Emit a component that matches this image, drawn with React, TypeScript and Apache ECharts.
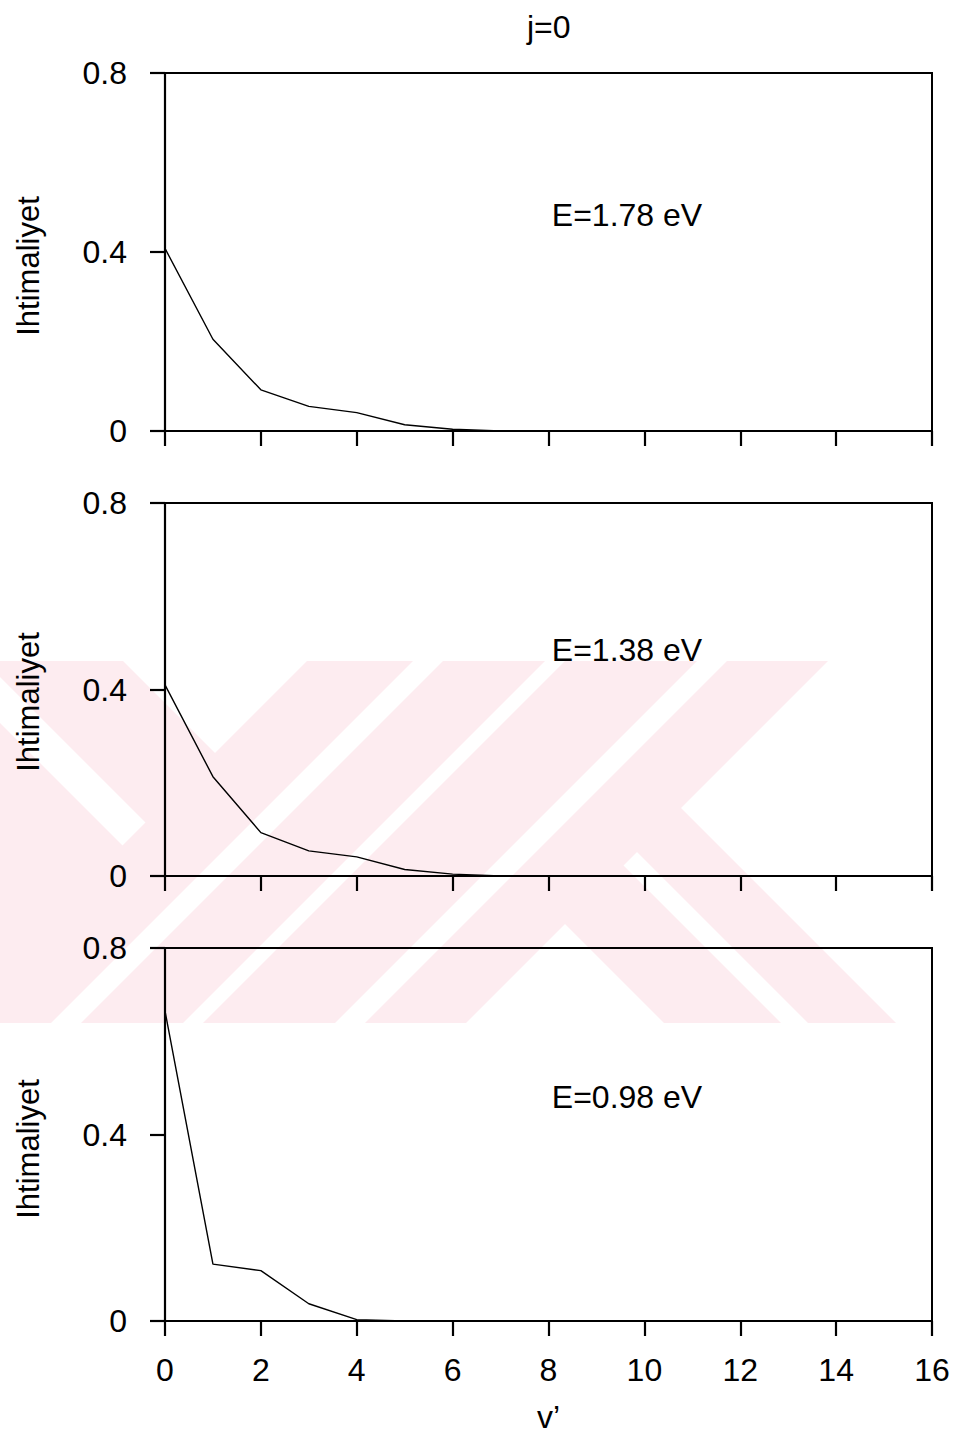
import React, { useEffect, useRef } from "react";
import * as echarts from "echarts";

// ---- data ----
const vLevels = [0, 1, 2, 3, 4, 5, 6, 7, 8, 9, 10, 11, 12, 13, 14, 15, 16];
const probE178 = [0.408, 0.205, 0.092, 0.055, 0.041, 0.014, 0.004, 0, 0, 0, 0, 0, 0, 0, 0, 0, 0];
const probE138 = [0.41, 0.213, 0.093, 0.054, 0.041, 0.014, 0.004, 0, 0, 0, 0, 0, 0, 0, 0, 0, 0];
const probE098 = [0.665, 0.122, 0.108, 0.037, 0.003, 0, 0, 0, 0, 0, 0, 0, 0, 0, 0, 0, 0];
const energyLabels = ["E=1.78 eV", "E=1.38 eV", "E=0.98 eV"];
const seriesValues = [probE178, probE138, probE098];
const xTickLabels = ["0", "2", "4", "6", "8", "10", "12", "14", "16"];
const yTickLabels = ["0", "0.4", "0.8"];
const titleText = "j=0";
const yAxisName = "Ihtimaliyet";
const xAxisName = "v\u2019";

const FONT = "'Liberation Sans', Arial, Helvetica, sans-serif";

// ---- layout (positions only) ----
const panels = [
  { top: 73, height: 358, labelY: 215, nameY: 266 },
  { top: 503, height: 373, labelY: 650, nameY: 702 },
  { top: 948, height: 373, labelY: 1097, nameY: 1149 },
];
const GRID_LEFT = 165;
const GRID_WIDTH = 767;

// watermark helpers (decorative background)
type Pt = [number, number];
function clip(poly: Pt[], a: number, b: number, c: number): Pt[] {
  const out: Pt[] = [];
  for (let i = 0; i < poly.length; i++) {
    const p = poly[i];
    const q = poly[(i + 1) % poly.length];
    const fp = a * p[0] + b * p[1] + c;
    const fq = a * q[0] + b * q[1] + c;
    if (fp >= 0) out.push(p);
    if ((fp >= 0) !== (fq >= 0)) {
      const t = fp / (fp - fq);
      out.push([p[0] + t * (q[0] - p[0]), p[1] + t * (q[1] - p[1])]);
    }
  }
  return out;
}
const WM_TOP = 661;
const WM_BOTTOM = 1023;
type Cons = { kind: "u" | "v"; op: "le" | "ge"; k: number };
function region(cons: Cons[]): Pt[] {
  let poly: Pt[] = [
    [0, WM_TOP],
    [961, WM_TOP],
    [961, WM_BOTTOM],
    [0, WM_BOTTOM],
  ];
  for (const c of cons) {
    // u = x + y - top ; v = x - y + top
    if (c.kind === "u" && c.op === "le") poly = clip(poly, -1, -1, c.k + WM_TOP);
    if (c.kind === "u" && c.op === "ge") poly = clip(poly, 1, 1, -WM_TOP - c.k);
    if (c.kind === "v" && c.op === "le") poly = clip(poly, -1, 1, c.k - WM_TOP);
    if (c.kind === "v" && c.op === "ge") poly = clip(poly, 1, -1, WM_TOP - c.k);
    if (poly.length === 0) break;
  }
  return poly;
}
const wmRegions: Cons[][] = [
  [{ kind: "u", op: "le", k: 308 }, { kind: "v", op: "ge", k: -16 }, { kind: "v", op: "le", k: 123 }],
  [{ kind: "u", op: "le", k: 308 }, { kind: "v", op: "le", k: -62 }],
  [{ kind: "u", op: "ge", k: 307 }, { kind: "u", op: "le", k: 413 }],
  [{ kind: "u", op: "ge", k: 443 }, { kind: "u", op: "le", k: 545 }],
  [{ kind: "u", op: "ge", k: 565 }, { kind: "u", op: "le", k: 697 }],
  [{ kind: "u", op: "ge", k: 727 }, { kind: "u", op: "le", k: 828 }],
  [{ kind: "u", op: "ge", k: 827 }, { kind: "v", op: "ge", k: 446 }, { kind: "v", op: "le", k: 534 }],
  [{ kind: "u", op: "ge", k: 827 }, { kind: "v", op: "ge", k: 302 }, { kind: "v", op: "le", k: 419 }],
];

export default function App() {
  const ref = useRef<HTMLDivElement>(null);

  useEffect(() => {
    document.body.style.margin = "0";
    if (!ref.current) return;
    const chart = echarts.init(ref.current, undefined, { renderer: "svg" });

    const grids = panels.map((p) => ({
      left: GRID_LEFT,
      top: p.top,
      width: GRID_WIDTH,
      height: p.height,
      show: true,
      borderColor: "#000",
      borderWidth: 2,
      backgroundColor: "transparent",
      z: 3,
    }));

    const xAxes = panels.map((_, i) => ({
      type: "value",
      gridIndex: i,
      min: 0,
      max: 16,
      interval: 2,
      z: 3,
      name: i === 2 ? xAxisName : "",
      nameLocation: "middle",
      nameGap: 80,
      nameTextStyle: { fontSize: 32, color: "#000", fontFamily: FONT },
      axisLine: { show: true, onZero: false, lineStyle: { color: "#000", width: 2.2 } },
      axisTick: { show: true, inside: false, length: 15, lineStyle: { color: "#000", width: 2.2 } },
      axisLabel: {
        show: i === 2,
        margin: 33,
        fontSize: 32,
        color: "#000",
        fontFamily: FONT,
        formatter: (val: number) => xTickLabels[Math.round(val / 2)] ?? String(val),
      },
      splitLine: { show: false },
    }));

    const yAxes = panels.map((_, i) => ({
      type: "value",
      gridIndex: i,
      min: 0,
      max: 0.8,
      interval: 0.4,
      z: 3,
      axisLine: { show: true, onZero: false, lineStyle: { color: "#000", width: 2.2 } },
      axisTick: { show: true, inside: false, length: 15, lineStyle: { color: "#000", width: 2.2 } },
      axisLabel: {
        margin: 38,
        fontSize: 32,
        color: "#000",
        fontFamily: FONT,
        formatter: (val: number) => yTickLabels[Math.round(val / 0.4)] ?? String(val),
      },
      splitLine: { show: false },
    }));

    const series = seriesValues.map((vals, i) => ({
      type: "line",
      name: energyLabels[i],
      xAxisIndex: i,
      yAxisIndex: i,
      data: vLevels.map((v, j) => [v, vals[j]]),
      symbol: "none",
      lineStyle: { color: "#000", width: 1.4 },
      z: 4,
    }));

    const wmElements = wmRegions
      .map((cons) => region(cons))
      .filter((pts) => pts.length >= 3)
      .map((pts) => ({
        type: "polygon",
        silent: true,
        z: -1,
        shape: { points: pts },
        style: { fill: "#fdecf0", stroke: "none" },
      }));

    const textEls: any[] = [];
    panels.forEach((p, i) => {
      textEls.push({
        type: "text",
        x: 627,
        y: p.labelY,
        z: 5,
        style: {
          text: energyLabels[i],
          fontSize: 32,
          fontFamily: FONT,
          fill: "#000",
          align: "center",
          verticalAlign: "middle",
          textAlign: "center",
          textVerticalAlign: "middle",
        },
      });
      textEls.push({
        type: "text",
        x: 28,
        y: p.nameY,
        rotation: Math.PI / 2,
        z: 5,
        style: {
          text: yAxisName,
          fontSize: 31,
          fontFamily: FONT,
          fill: "#000",
          align: "center",
          verticalAlign: "middle",
          textAlign: "center",
          textVerticalAlign: "middle",
        },
      });
    });

    chart.setOption({
      animation: false,
      backgroundColor: "#fff",
      title: {
        text: titleText,
        left: 522,
        top: 6,
        textStyle: { fontSize: 32, fontWeight: "normal", color: "#000", fontFamily: FONT },
      },
      grid: grids,
      xAxis: xAxes,
      yAxis: yAxes,
      series,
      graphic: [...wmElements, ...textEls],
    });

    return () => chart.dispose();
  }, []);

  return <div ref={ref} style={{ width: 961, height: 1442 }} />;
}
